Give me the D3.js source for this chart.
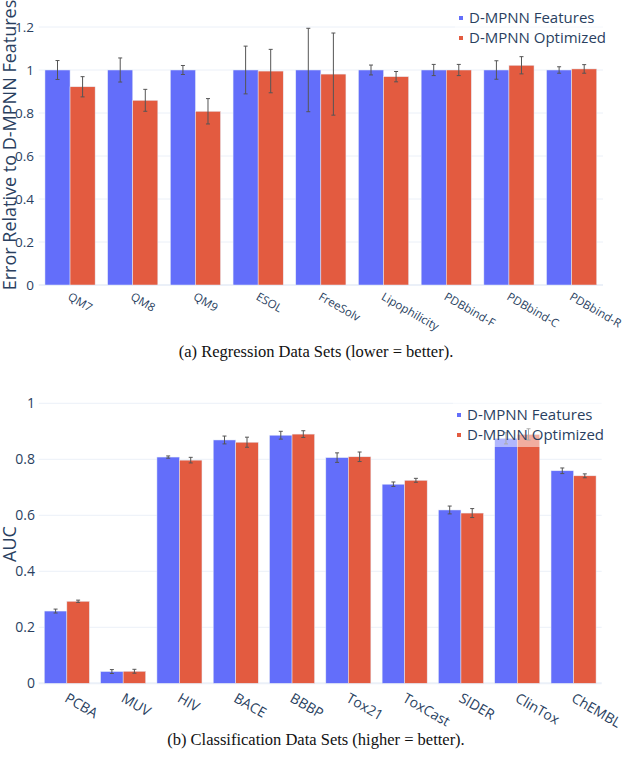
<!DOCTYPE html>
<html><head><meta charset="utf-8">
<script src="https://cdn.jsdelivr.net/npm/d3@7"></script>
<style>body{margin:0;background:#fff}svg{display:block}</style>
</head><body>
<svg id="c" width="625" height="761"></svg>
<script>
// ---------- data ----------
const series = ["D-MPNN Features", "D-MPNN Optimized"];
const colors = ["#636efa", "#e35b40"];

const regCats = ["QM7","QM8","QM9","ESOL","FreeSolv","Lipophilicity","PDBbind-F","PDBbind-C","PDBbind-R"];
const regFeatures = [1,1,1,1,1,1,1,1,1];
const regFeaturesErr = [0.044,0.056,0.021,0.111,0.194,0.023,0.026,0.043,0.015];
const regOptimized = [0.922,0.859,0.808,0.995,0.981,0.969,1.0,1.022,1.005];
const regOptimizedErr = [0.047,0.051,0.059,0.101,0.191,0.024,0.026,0.040,0.020];
const regTicks = [0,0.2,0.4,0.6,0.8,1,1.2];

const clsCats = ["PCBA","MUV","HIV","BACE","BBBP","Tox21","ToxCast","SIDER","ClinTox","ChEMBL"];
const clsFeatures = [0.258,0.042,0.808,0.869,0.886,0.806,0.711,0.619,0.875,0.759];
const clsFeaturesErr = [0.007,0.007,0.004,0.014,0.014,0.017,0.008,0.014,0.02,0.01];
const clsOptimized = [0.293,0.043,0.797,0.861,0.890,0.809,0.725,0.608,0.889,0.741];
const clsOptimizedErr = [0.004,0.007,0.01,0.018,0.012,0.017,0.007,0.016,0.02,0.007];
const clsTicks = [0,0.2,0.4,0.6,0.8,1];

const svg = d3.select("#c");
const fmt = d3.format("~g");
const txtColor = "#2a3f5f";

function drawChart(cfg){
  const g = svg.append("g");
  const x = d3.scaleBand().domain(cfg.cats).range([cfg.left, cfg.right]).paddingInner(0.2).paddingOuter(0.1);
  const xs = d3.scaleBand().domain(series).range([0, x.bandwidth()]);
  const y = d3.scaleLinear().domain([0,1]).range([cfg.y0, cfg.y1]);

  // grid
  g.selectAll("line.grid").data(cfg.ticks).join("line")
    .attr("x1", cfg.left).attr("x2", cfg.right)
    .attr("y1", d=>y(d)).attr("y2", d=>y(d))
    .attr("stroke", "#ebf0f8").attr("stroke-width", d=>d===0?2:1);

  // y axis labels
  const ya = d3.axisLeft(y).tickValues(cfg.ticks).tickFormat(fmt).tickSize(0).tickPadding(0);
  const yg = g.append("g").attr("transform", `translate(${cfg.yLabelX},0)`).call(ya);
  yg.select(".domain").remove();
  yg.selectAll("text").attr("fill", txtColor).style("font-family","Open Sans").style("font-size", cfg.yFont+"px");

  // bars
  const vals = [cfg.f, cfg.o], errs = [cfg.fe, cfg.oe];
  series.forEach((s, si) => {
    const data = cfg.cats.map((c,i)=>({c, v: vals[si][i], e: errs[si][i]}));
    g.append("g").selectAll("rect").data(data).join("rect")
      .attr("x", d=>x(d.c)+xs(s)).attr("width", xs.bandwidth())
      .attr("y", d=>y(d.v)).attr("height", d=>y(0)-y(d.v))
      .attr("fill", colors[si]).attr("stroke", "#e5ecf6").attr("stroke-width", 0.5);
    const eg = g.append("g").attr("stroke", "#555").attr("stroke-width", 1);
    data.forEach(d => {
      const cx = x(d.c)+xs(s)+xs.bandwidth()/2;
      eg.append("line").attr("x1",cx).attr("x2",cx).attr("y1",y(d.v+d.e)).attr("y2",y(d.v-d.e));
      eg.append("line").attr("x1",cx-2).attr("x2",cx+2).attr("y1",y(d.v+d.e)).attr("y2",y(d.v+d.e));
      eg.append("line").attr("x1",cx-2).attr("x2",cx+2).attr("y1",y(d.v-d.e)).attr("y2",y(d.v-d.e));
    });
  });

  // x tick labels
  g.append("g").selectAll("text").data(cfg.cats).join("text")
    .attr("transform", d=>`translate(${x(d)+x.bandwidth()/2+cfg.xLabelDx},${cfg.xLabelY}) rotate(30)`)
    .attr("text-anchor","start").attr("fill", txtColor)
    .style("font-family","Open Sans").style("font-size", cfg.xFont+"px")
    .text(d=>d);

  // y title
  g.append("text").attr("transform", `translate(16,${cfg.titleY}) rotate(-90)`)
    .attr("text-anchor","middle").attr("fill", txtColor)
    .style("font-family","Open Sans").style("font-size","18px").text(cfg.yTitle);

  // legend
  const lg = g.append("g");
  lg.append("rect").attr("x", cfg.legX-6).attr("y", cfg.legY-13).attr("width", 155).attr("height", 45)
    .attr("fill", "rgba(255,255,255,0.5)");
  series.forEach((s, si) => {
    lg.append("rect").attr("x", cfg.legX-2).attr("y", cfg.legY + si*20 - 2).attr("width",4).attr("height",4)
      .attr("fill", colors[si]);
    lg.append("text").attr("x", cfg.legX+8).attr("y", cfg.legY + si*20 + 5).attr("fill", txtColor)
      .style("font-family","Open Sans").style("font-size","15px").text(s);
  });

  // caption
  g.append("text").attr("x", cfg.capX).attr("y", cfg.capY).attr("text-anchor","middle").attr("fill","#111")
    .style("font-family","Liberation Serif").style("font-size", cfg.capFont+"px").text(cfg.caption);
}

drawChart({
  cats: regCats, f: regFeatures, fe: regFeaturesErr, o: regOptimized, oe: regOptimizedErr,
  ticks: regTicks, left: 38.7, right: 603, y0: 285, y1: 70, yLabelX: 34, yFont: 13.5,
  xLabelY: 299, xLabelDx: -3, xFont: 11.5, titleY: 145, yTitle: "Error Relative to D-MPNN Features",
  legX: 461, legY: 18, caption: "(a) Regression Data Sets (lower = better).", capX: 316, capY: 357, capFont: 16.5
});
drawChart({
  cats: clsCats, f: clsFeatures, fe: clsFeaturesErr, o: clsOptimized, oe: clsOptimizedErr,
  ticks: clsTicks, left: 38.7, right: 601.7, y0: 683.3, y1: 403.3, yLabelX: 35, yFont: 14,
  xLabelY: 701, xLabelDx: -3, xFont: 14, titleY: 544, yTitle: "AUC",
  legX: 459, legY: 415, caption: "(b) Classification Data Sets (higher = better).", capX: 316, capY: 745, capFont: 16.5
});
</script>
</body></html>
